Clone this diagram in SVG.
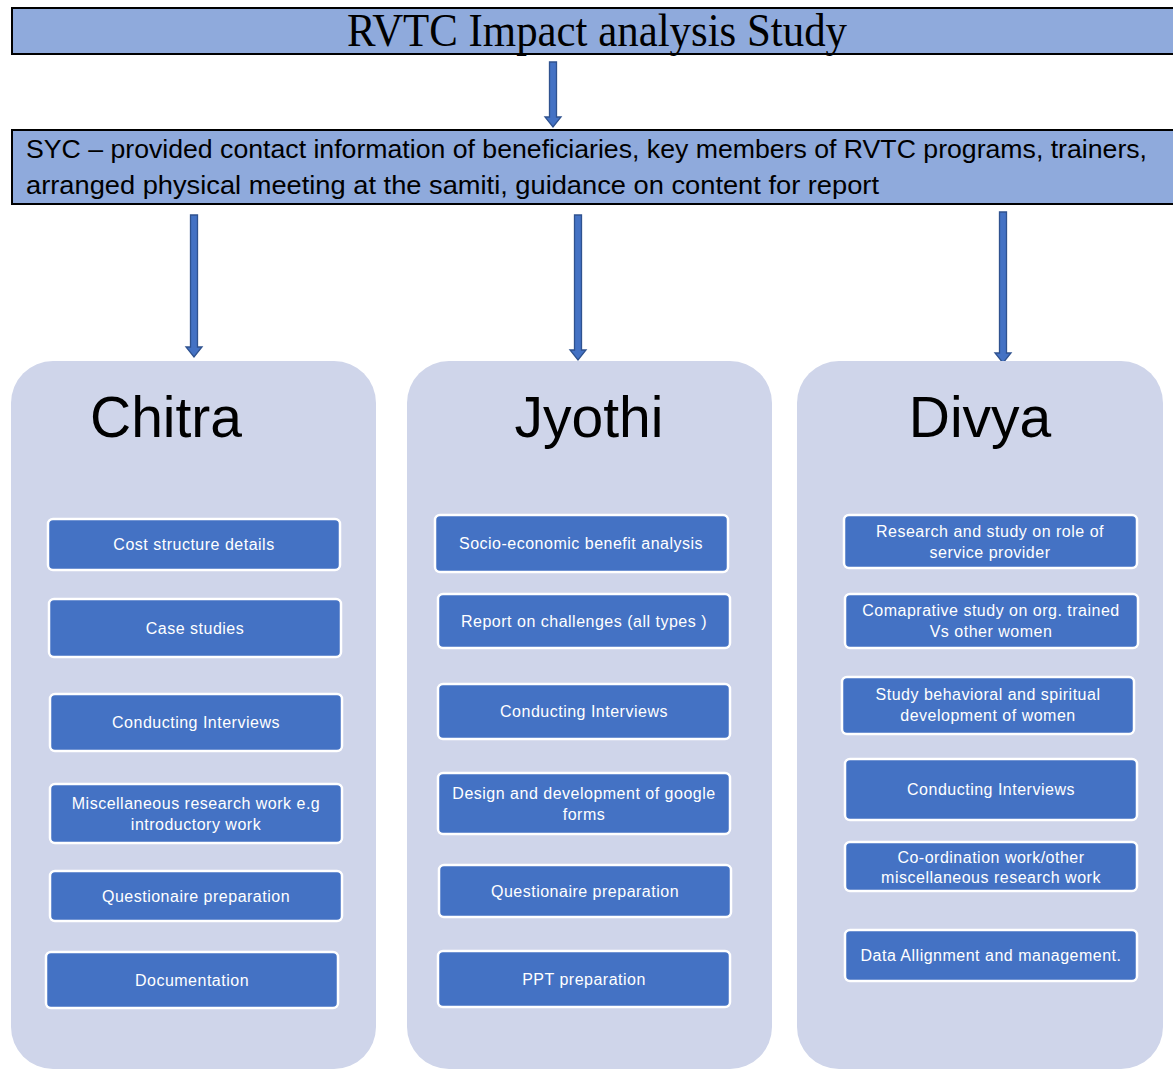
<svg xmlns="http://www.w3.org/2000/svg" width="1173" height="1069" viewBox="0 0 1173 1069">
<defs>
<style>
.hdr{fill:#8faadc;stroke:#000;stroke-width:2}
.panel{fill:#cfd5ea}
.item{fill:#4472c4;stroke:#fff;stroke-width:2.5}
.it{font-family:"Liberation Sans",Arial,sans-serif;font-size:16px;letter-spacing:0.5px;fill:#fff;text-anchor:middle}
.name{font-family:"Liberation Sans",Arial,sans-serif;font-size:57px;fill:#000;text-anchor:middle}
.arr{fill:#4472c4;stroke:#2f528f;stroke-width:1.3}
</style>
</defs>
<rect width="1173" height="1069" fill="#fff"/>
<g id="title">
<rect class="hdr" x="12" y="8" width="1170" height="46"/>
<text x="597" y="46" font-family="Liberation Serif,'Times New Roman',serif" font-size="46" text-anchor="middle" textLength="500" lengthAdjust="spacingAndGlyphs">RVTC Impact analysis Study</text>
</g>
<g id="syc">
<rect class="hdr" x="12" y="130" width="1170" height="74"/>
<text font-family="Liberation Sans,Arial,sans-serif" font-size="25" fill="#000">
<tspan x="26" y="158" textLength="1121" lengthAdjust="spacingAndGlyphs">SYC – provided contact information of beneficiaries, key members of RVTC programs, trainers,</tspan>
<tspan x="26" y="194" textLength="853" lengthAdjust="spacingAndGlyphs">arranged physical meeting at the samiti, guidance on content for report</tspan>
</text>
</g>
<g id="connectors">
<path class="arr" d="M549.5 62 H556.5 V117 H561 L553 127 L545 117 H549.5 Z"/>
<path class="arr" d="M190.5 215 H197.5 V347 H202 L194 357 L186 347 H190.5 Z"/>
<path class="arr" d="M574.5 215 H581.5 V350 H586 L578 360 L570 350 H574.5 Z"/>
<path class="arr" d="M999.5 212 H1006.5 V353 H1011 L1003 363 L995 353 H999.5 Z"/>
</g>
<g id="chitra">
<rect class="panel" x="11" y="361" width="365" height="708" rx="42"/>
<text class="name" x="166" y="437">Chitra</text>
<g id="c1"><rect class="item" x="48" y="519" width="292" height="51" rx="5"/><text class="it" x="194" y="550">Cost structure details</text></g>
<g id="c2"><rect class="item" x="49" y="599" width="292" height="58" rx="5"/><text class="it" x="195" y="634">Case studies</text></g>
<g id="c3"><rect class="item" x="50" y="694" width="292" height="57" rx="5"/><text class="it" x="196" y="728">Conducting Interviews</text></g>
<g id="c4"><rect class="item" x="50" y="784" width="292" height="59" rx="5"/><text class="it" x="196" y="809">Miscellaneous research work e.g</text><text class="it" x="196" y="830">introductory work</text></g>
<g id="c5"><rect class="item" x="50" y="871" width="292" height="50" rx="5"/><text class="it" x="196" y="902">Questionaire preparation</text></g>
<g id="c6"><rect class="item" x="46" y="952" width="292" height="56" rx="5"/><text class="it" x="192" y="986">Documentation</text></g>
</g>
<g id="jyothi">
<rect class="panel" x="407" y="361" width="365" height="708" rx="42"/>
<text class="name" x="589" y="437">Jyothi</text>
<g id="j1"><rect class="item" x="435" y="515" width="293" height="57" rx="5"/><text class="it" x="581" y="549">Socio-economic benefit analysis</text></g>
<g id="j2"><rect class="item" x="438" y="594" width="292" height="54" rx="5"/><text class="it" x="584" y="627">Report on challenges (all types )</text></g>
<g id="j3"><rect class="item" x="438" y="684" width="292" height="55" rx="5"/><text class="it" x="584" y="717">Conducting Interviews</text></g>
<g id="j4"><rect class="item" x="438" y="773" width="292" height="61" rx="5"/><text class="it" x="584" y="799">Design and development of google</text><text class="it" x="584" y="820">forms</text></g>
<g id="j5"><rect class="item" x="439" y="865" width="292" height="52" rx="5"/><text class="it" x="585" y="897">Questionaire preparation</text></g>
<g id="j6"><rect class="item" x="438" y="951" width="292" height="56" rx="5"/><text class="it" x="584" y="985">PPT preparation</text></g>
</g>
<g id="divya">
<rect class="panel" x="797" y="361" width="366" height="708" rx="42"/>
<text class="name" x="980" y="437">Divya</text>
<g id="d1"><rect class="item" x="844" y="515" width="293" height="53" rx="5"/><text class="it" x="990" y="537">Research and study on role of</text><text class="it" x="990" y="558">service provider</text></g>
<g id="d2"><rect class="item" x="845" y="594" width="293" height="54" rx="5"/><text class="it" x="991" y="616">Comaprative study on org. trained</text><text class="it" x="991" y="637">Vs other women</text></g>
<g id="d3"><rect class="item" x="842" y="677" width="292" height="57" rx="5"/><text class="it" x="988" y="700">Study behavioral and spiritual</text><text class="it" x="988" y="721">development of women</text></g>
<g id="d4"><rect class="item" x="845" y="759" width="292" height="61" rx="5"/><text class="it" x="991" y="795">Conducting Interviews</text></g>
<g id="d5"><rect class="item" x="845" y="842" width="292" height="49" rx="5"/><text class="it" x="991" y="863">Co-ordination work/other</text><text class="it" x="991" y="883">miscellaneous research work</text></g>
<g id="d6"><rect class="item" x="845" y="930" width="292" height="51" rx="5"/><text class="it" x="991" y="961">Data Allignment and management.</text></g>
</g>
</svg>
